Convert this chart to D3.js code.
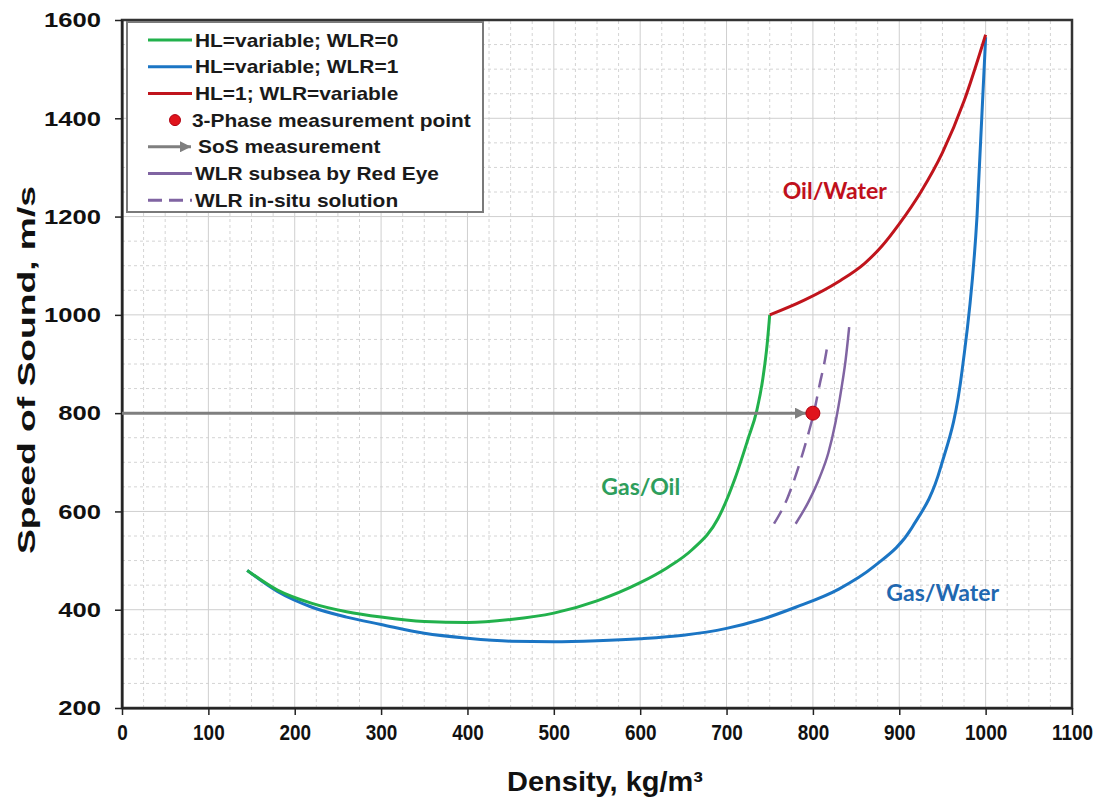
<!DOCTYPE html>
<html>
<head>
<meta charset="utf-8">
<script src="https://cdn.jsdelivr.net/npm/d3@7"></script>
<style>
  body { margin: 0; background: #fff; }
  text { font-family: "Liberation Sans", Arial, sans-serif; }
</style>
</head>
<body>
<svg id="chart" width="1102" height="798"></svg>
<script>
// density kg/m3, speed of sound m/s
const gasOil = [[145,480],[180,440],[220,413],[260,396],[300,385],[350,376],[400,374],[450,380],[500,393],[550,418],[600,455],[630,484],[660,522],[690,585],[710,668],[725,748],[735,805],[742,870],[747,940],[750,1000]];
const gasWater = [[145,480],[180,437],[220,405],[260,385],[300,370],[350,352],[400,342],[450,336],[500,335],[550,337],[600,341],[650,348],[700,362],[740,380],[780,405],[830,442],[870,487],[915,568],[948,690],[973,890],[990,1200],[1000,1565]];
const oilWater = [[750,1000],[790,1030],[830,1068],[860,1105],[880,1140],[900,1185],[925,1250],[950,1330],[975,1435],[1000,1570]];
const wlrRedEye = [[780,575],[795,620],[808,670],[818,720],[826,780],[833,850],[838,910],[842,975]];
const wlrInSitu = [[755,575],[770,625],[785,700],[795,760],[801,800],[808,860],[813,900],[817,940]];
const measurePoint = [800, 800];
const sosMeasurement = { from: 0, to: 792, sos: 800 };

const xTickValues = [0,100,200,300,400,500,600,700,800,900,1000,1100];
const yTickValues = [200,400,600,800,1000,1200,1400,1600];

const annotations = [
  { text: "Oil/Water", d: 765, s: 1236, color: "#c0101c" },
  { text: "Gas/Oil", d: 555, s: 633, color: "#2e9e5c" },
  { text: "Gas/Water", d: 885, s: 418, color: "#1f68b0" }
];

const legendItems = [
  { label: "HL=variable; WLR=0", type: "line", color: "#22b14c" },
  { label: "HL=variable; WLR=1", type: "line", color: "#1b75c4" },
  { label: "HL=1; WLR=variable", type: "line", color: "#c0141c" },
  { label: "3-Phase measurement point", type: "dot", color: "#e0141c" },
  { label: "SoS measurement", type: "arrow", color: "#7f7f7f" },
  { label: "WLR subsea by Red Eye", type: "line", color: "#8064a2" },
  { label: "WLR in-situ solution", type: "dash", color: "#8064a2" }
];

const width = 1102, height = 798;
const margin = { top: 20, right: 30, bottom: 90, left: 122 };

const x = d3.scaleLinear().domain([0, 1100]).range([margin.left, width - margin.right]);
const y = d3.scaleLinear().domain([200, 1600]).range([height - margin.bottom, margin.top]);

const svg = d3.select("#chart");

// stretch a text to k times its natural width
const stretch = k => function () {
  const w = this.getComputedTextLength();
  d3.select(this).attr("textLength", w * k).attr("lengthAdjust", "spacingAndGlyphs");
};

svg.append("defs").append("marker")
  .attr("id", "arrow")
  .attr("viewBox", "0 0 10 10")
  .attr("refX", 10).attr("refY", 5)
  .attr("markerUnits", "userSpaceOnUse")
  .attr("markerWidth", 13).attr("markerHeight", 11)
  .attr("orient", "auto")
  .append("path")
  .attr("d", "M0,0L10,5L0,10z")
  .attr("fill", "#7f7f7f");

// grid
const grid = svg.append("g");
const xMinor = d3.range(0, 1101, 25);
const yMinor = d3.range(200, 1601, 50);

grid.selectAll(".vminor")
  .data(xMinor.filter(d => d % 100 !== 0))
  .join("line")
  .attr("x1", x).attr("x2", x)
  .attr("y1", y(200)).attr("y2", y(1600))
  .attr("stroke", "#d4d4d4").attr("stroke-dasharray", "3,3");

grid.selectAll(".hminor")
  .data(yMinor.filter(d => d % 200 !== 0))
  .join("line")
  .attr("y1", y).attr("y2", y)
  .attr("x1", x(0)).attr("x2", x(1100))
  .attr("stroke", "#d4d4d4").attr("stroke-dasharray", "3,3");

grid.selectAll(".vmajor")
  .data(xTickValues)
  .join("line")
  .attr("x1", x).attr("x2", x)
  .attr("y1", y(200)).attr("y2", y(1600))
  .attr("stroke", "#cfcfcf");

grid.selectAll(".hmajor")
  .data(yTickValues)
  .join("line")
  .attr("y1", y).attr("y2", y)
  .attr("x1", x(0)).attr("x2", x(1100))
  .attr("stroke", "#cfcfcf");

// frame
svg.append("rect")
  .attr("x", x(0)).attr("y", y(1600))
  .attr("width", x(1100) - x(0)).attr("height", y(200) - y(1600))
  .attr("fill", "none").attr("stroke", "#333").attr("stroke-width", 2.5);

// axes
const xAxis = svg.append("g")
  .attr("transform", `translate(0,${y(200)})`)
  .call(d3.axisBottom(x).tickValues(xTickValues).tickFormat(d3.format("d")).tickSize(7).tickSizeOuter(0));
xAxis.select(".domain").attr("stroke", "#222").attr("stroke-width", 2);
xAxis.selectAll(".tick line").attr("stroke", "#222").attr("stroke-width", 1.5);
xAxis.selectAll(".tick text")
  .attr("y", 16).attr("dy", "0.74em")
  .attr("font-size", 22).attr("font-weight", "bold").attr("fill", "#111")
  .style("font-family", "'Liberation Sans', Arial, sans-serif")
  .each(stretch(0.86));

const yAxis = svg.append("g")
  .attr("transform", `translate(${x(0)},0)`)
  .call(d3.axisLeft(y).tickValues(yTickValues).tickFormat(d3.format("d")).tickSize(7).tickSizeOuter(0));
yAxis.select(".domain").attr("stroke", "#222").attr("stroke-width", 2);
yAxis.selectAll(".tick line").attr("stroke", "#222").attr("stroke-width", 1.5);
yAxis.selectAll(".tick text")
  .attr("x", -21)
  .attr("font-size", 21).attr("font-weight", "bold").attr("fill", "#111")
  .style("font-family", "'Liberation Sans', Arial, sans-serif")
  .each(stretch(1.22));

// axis titles
svg.append("text")
  .attr("x", (x(0) + x(1100)) / 2 + 8).attr("y", 791)
  .attr("text-anchor", "middle")
  .attr("font-size", 27).attr("font-weight", "bold").attr("fill", "#111")
  .attr("textLength", 196).attr("lengthAdjust", "spacingAndGlyphs")
  .text("Density, kg/m³");

svg.append("text")
  .attr("transform", `translate(35,${(y(200) + y(1600)) / 2 + 6}) rotate(-90)`)
  .attr("text-anchor", "middle")
  .attr("font-size", 24).attr("font-weight", "bold").attr("fill", "#111")
  .attr("textLength", 368).attr("lengthAdjust", "spacingAndGlyphs")
  .text("Speed of Sound, m/s");

// curves
const line = d3.line().x(d => x(d[0])).y(d => y(d[1])).curve(d3.curveMonotoneX);
const plot = svg.append("g");

plot.append("path").datum(gasWater)
  .attr("d", line).attr("fill", "none").attr("stroke", "#1b75c4").attr("stroke-width", 3);
plot.append("path").datum(gasOil)
  .attr("d", line).attr("fill", "none").attr("stroke", "#22b14c").attr("stroke-width", 3);
plot.append("path").datum(oilWater)
  .attr("d", line).attr("fill", "none").attr("stroke", "#c0141c").attr("stroke-width", 3);
plot.append("path").datum(wlrRedEye)
  .attr("d", line).attr("fill", "none").attr("stroke", "#8064a2").attr("stroke-width", 2.5);
plot.append("path").datum(wlrInSitu)
  .attr("d", line).attr("fill", "none").attr("stroke", "#8064a2").attr("stroke-width", 2.5)
  .attr("stroke-dasharray", "15,9");

plot.append("line")
  .attr("x1", x(sosMeasurement.from)).attr("x2", x(sosMeasurement.to))
  .attr("y1", y(sosMeasurement.sos)).attr("y2", y(sosMeasurement.sos))
  .attr("stroke", "#7f7f7f").attr("stroke-width", 3)
  .attr("marker-end", "url(#arrow)");

plot.append("circle")
  .attr("cx", x(measurePoint[0])).attr("cy", y(measurePoint[1])).attr("r", 7)
  .attr("fill", "#e0141c").attr("stroke", "#b00010").attr("stroke-width", 1);

// region labels
plot.selectAll(".anno")
  .data(annotations)
  .join("text")
  .attr("x", d => x(d.d)).attr("y", d => y(d.s))
  .attr("font-size", 23).attr("font-weight", "bold")
  .style("font-family", "Lato, 'Open Sans', sans-serif")
  .attr("fill", d => d.color)
  .text(d => d.text);

// legend
const lg = svg.append("g").attr("transform", "translate(127,22)");
lg.append("rect")
  .attr("width", 356).attr("height", 190)
  .attr("fill", "#fff").attr("stroke", "#7a7a7a").attr("stroke-width", 2);

const rows = lg.selectAll(".row")
  .data(legendItems)
  .join("g")
  .attr("transform", (d, i) => `translate(0,${18 + i * 26.7})`);

rows.filter(d => d.type === "line" || d.type === "dash")
  .append("line")
  .attr("x1", 21).attr("x2", 65)
  .attr("stroke", d => d.color).attr("stroke-width", 3)
  .attr("stroke-dasharray", d => d.type === "dash" ? "14,7" : null);

rows.filter(d => d.type === "arrow")
  .append("line")
  .attr("x1", 21).attr("x2", 64)
  .attr("stroke", d => d.color).attr("stroke-width", 3)
  .attr("marker-end", "url(#arrow)");

rows.filter(d => d.type === "dot")
  .append("circle")
  .attr("cx", 48).attr("r", 5.5)
  .attr("fill", d => d.color).attr("stroke", "#b00010");

rows.append("text")
  .attr("x", d => d.type === "arrow" ? 71 : d.type === "dot" ? 65 : 68)
  .attr("dy", "0.35em")
  .attr("font-size", 19).attr("font-weight", "bold").attr("fill", "#1a1a1a")
  .each(function (d) { d3.select(this).text(d.label); })
  .each(stretch(1.1));
</script>
</body>
</html>
